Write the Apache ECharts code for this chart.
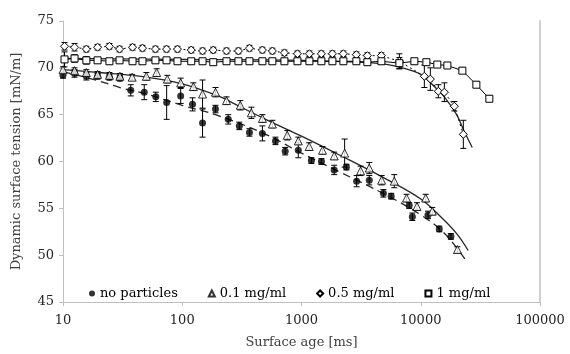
<!DOCTYPE html>
<html>
<head>
<meta charset="utf-8">
<script src="https://cdn.jsdelivr.net/npm/echarts@6/dist/echarts.min.js"></script>
<style>
  html, body { margin: 0; padding: 0; background: #fff; }
  #chart { width: 570px; height: 354px; }
</style>
</head>
<body>
<div id="chart"></div>
<script>
// no particles (filled circles)
const npT = [10, 12.5, 15.7, 19.5, 24.5, 30, 37, 48, 60, 74, 97, 122, 148, 190, 243, 301, 366, 470, 605, 730, 940, 1210, 1470, 1880, 2380, 2900, 3700, 4860, 5650, 8000, 8500, 11500, 14300, 17900];
const npY = [69.2, 69.4, 69.1, 69.1, 69.0, 68.9, 67.6, 67.4, 66.9, 66.3, 67.0, 66.1, 64.1, 65.6, 64.5, 63.8, 63.1, 63.0, 62.2, 61.1, 61.2, 60.1, 60.0, 59.1, 59.4, 57.9, 58.0, 56.6, 56.3, 55.3, 54.1, 54.3, 52.8, 52.0];
const npE = [0.3, 0.4, 0.4, 0.3, 0.3, 0.3, 0.6, 0.8, 0.5, 1.8, 0.8, 0.7, 1.5, 0.4, 0.5, 0.4, 0.4, 0.8, 0.4, 0.4, 0.8, 0.3, 0.3, 0.5, 0.3, 0.6, 0.5, 0.4, 0.3, 0.3, 0.4, 0.4, 0.3, 0.3];

// 0.1 mg/ml (open triangles)
const p1T = [10, 12.5, 15.7, 19.5, 24.5, 30, 38, 50, 61, 75, 97, 124, 148, 190, 235, 307, 380, 470, 570, 760, 940, 1160, 1500, 1880, 2300, 3130, 3700, 4700, 6000, 7600, 9300, 11000, 12500, 20300];
const p1Y = [69.8, 69.7, 69.5, 69.3, 69.2, 69.1, 69.0, 69.1, 69.5, 68.8, 68.4, 68.0, 67.2, 67.4, 66.5, 66.0, 65.2, 64.6, 64.0, 62.8, 62.2, 61.6, 61.2, 60.6, 60.9, 59.0, 59.3, 58.0, 57.9, 56.1, 55.2, 56.1, 54.7, 50.6];
const p1E = [0.3, 0.3, 0.3, 0.3, 0.3, 0.3, 0.3, 0.4, 0.4, 0.4, 0.5, 0.4, 1.5, 0.5, 0.4, 0.5, 0.6, 0.4, 0.4, 0.5, 0.4, 0.4, 0.4, 0.4, 1.5, 0.5, 0.6, 0.5, 0.7, 0.4, 0.4, 0.4, 0.4, 0.3];

// 0.5 mg/ml (open diamonds)
const p5T = [10.3, 12.5, 15.7, 19.5, 24.5, 29.8, 38.3, 46.4, 59.6, 73.8, 91.2, 119, 148, 182, 235, 296, 366, 470, 570, 719, 925, 1165, 1468, 1816, 2245, 2885, 3567, 4675, 6620, 10720, 12040, 14050, 15780, 19130, 22760];
const p5Y = [72.3, 72.2, 72.0, 72.2, 72.3, 72.0, 72.2, 72.1, 72.0, 72.0, 72.0, 71.9, 71.8, 71.9, 71.8, 71.8, 72.1, 71.9, 71.8, 71.6, 71.5, 71.5, 71.5, 71.5, 71.5, 71.4, 71.3, 71.3, 70.7, 69.1, 68.8, 67.5, 67.4, 65.9, 62.9];
const p5E = [0.4, 0.4, 0.3, 0.3, 0.3, 0.3, 0.3, 0.3, 0.3, 0.3, 0.3, 0.3, 0.3, 0.3, 0.3, 0.3, 0.3, 0.3, 0.3, 0.3, 0.3, 0.3, 0.3, 0.3, 0.3, 0.3, 0.3, 0.3, 0.8, 1.2, 1.2, 0.7, 1.0, 0.5, 1.5];

// 1 mg/ml (open squares)
const p10T = [10.3, 12.5, 15.7, 19.5, 24.5, 29.8, 38.3, 46.4, 59.6, 73.8, 91.2, 119, 148, 182, 235, 296, 366, 470, 570, 719, 925, 1165, 1468, 1816, 2245, 2885, 3567, 4675, 6620, 8840, 11150, 13770, 16720, 22330, 29270, 37600];
const p10Y = [70.9, 71.0, 70.8, 70.8, 70.7, 70.8, 70.7, 70.7, 70.8, 70.8, 70.7, 70.7, 70.7, 70.6, 70.7, 70.7, 70.7, 70.7, 70.7, 70.7, 70.7, 70.7, 70.7, 70.7, 70.7, 70.7, 70.6, 70.7, 70.5, 70.7, 70.6, 70.35, 70.25, 69.7, 68.2, 66.7];
const p10E = [0.8, 0.4, 0.4, 0.3, 0.3, 0.3, 0.3, 0.3, 0.3, 0.3, 0.3, 0.3, 0.3, 0.3, 0.3, 0.3, 0.3, 0.3, 0.3, 0.3, 0.3, 0.3, 0.3, 0.3, 0.3, 0.3, 0.3, 0.3, 0.6, 0.3, 0.3, 0.3, 0.3, 0.3, 0.3, 0.3];

// fitted curves
const fitNpT = [10, 20, 30, 50, 100, 200, 500, 1000, 2000, 5000, 10000, 15000, 20000, 24000];
const fitNpY = [69.6, 68.6, 67.9, 67.2, 66.0, 64.9, 62.9, 60.9, 59.0, 56.5, 54.3, 52.6, 50.8, 49.4];
const fitP1T = [10, 20, 50, 100, 200, 300, 500, 1000, 2000, 5000, 10000, 15000, 20000, 25000];
const fitP1Y = [69.8, 69.5, 69.0, 68.3, 67.0, 65.9, 64.5, 62.7, 60.8, 58.2, 56.0, 54.0, 52.3, 50.5];
const fitP5T = [10, 100, 1000, 3000, 5000, 7000, 10000, 13000, 16000, 20000, 23000, 27000];
const fitP5Y = [71.0, 70.9, 70.8, 70.6, 70.4, 70.0, 69.3, 68.0, 66.8, 65.0, 63.3, 61.5];

const yTicks = [45, 50, 55, 60, 65, 70, 75];

const FONT = 'DejaVu Serif';
const chart = echarts.init(document.getElementById('chart'), null, { renderer: 'canvas' });

function zip(a, b, c) {
  return a.map((v, i) => c ? [v, b[i], c[i]] : [v, b[i]]);
}

function renderErr(params, api) {
  const x = api.value(0), y = api.value(1), e = api.value(2);
  const hi = api.coord([x, y + e]);
  const lo = api.coord([x, y - e]);
  const w = 3;
  const st = { stroke: '#000', lineWidth: 1 };
  return {
    type: 'group',
    children: [
      { type: 'line', shape: { x1: hi[0], y1: hi[1], x2: lo[0], y2: lo[1] }, style: st },
      { type: 'line', shape: { x1: hi[0] - w, y1: hi[1], x2: hi[0] + w, y2: hi[1] }, style: st },
      { type: 'line', shape: { x1: lo[0] - w, y1: lo[1], x2: lo[0] + w, y2: lo[1] }, style: st }
    ]
  };
}

function errSeries(t, y, e) {
  return {
    type: 'custom',
    renderItem: renderErr,
    data: zip(t, y, e),
    encode: { x: 0, y: 1 },
    silent: true,
    z: 2
  };
}

function fitSeries(t, y, dashed) {
  return {
    type: 'line',
    data: zip(t, y),
    showSymbol: false,
    smooth: 0.4,
    lineStyle: { color: '#262626', width: 1.3, type: dashed ? [8, 5] : 'solid' },
    silent: true,
    z: 1
  };
}

const option = {
  animation: false,
  grid: { left: 63, right: 30, top: 21, bottom: 49 },
  xAxis: {
    type: 'log',
    logBase: 10,
    min: 10,
    max: 100000,
    name: 'Surface age [ms]',
    nameLocation: 'middle',
    nameGap: 34,
    nameTextStyle: { fontFamily: FONT, fontSize: 13, color: '#404040' },
    axisLine: { lineStyle: { color: '#bfbfbf' } },
    axisTick: { length: 4, lineStyle: { color: '#bfbfbf' } },
    axisLabel: { fontFamily: FONT, fontSize: 13, color: '#262626', margin: 12, formatter: v => String(Math.round(v)) },
    splitLine: { show: false },
    minorTick: { show: false }
  },
  yAxis: [{
    type: 'value',
    min: yTicks[0],
    max: yTicks[yTicks.length - 1],
    interval: 5,
    name: 'Dynamic surface tension [mN/m]',
    nameLocation: 'middle',
    nameGap: 40,
    nameTextStyle: { fontFamily: FONT, fontSize: 13, color: '#404040' },
    axisLine: { show: true, lineStyle: { color: '#bfbfbf' } },
    axisTick: { show: true, length: 4, lineStyle: { color: '#bfbfbf' } },
    axisLabel: { fontFamily: FONT, fontSize: 13, color: '#262626', margin: 9 },
    splitLine: { show: false }
  }, {
    type: 'value',
    position: 'right',
    min: yTicks[0],
    max: yTicks[yTicks.length - 1],
    interval: 5,
    axisLine: { show: true, lineStyle: { color: '#d0d0d0', width: 2 } },
    axisTick: { show: false },
    axisLabel: { show: false },
    splitLine: { show: false }
  }],
  legend: {
    left: 84,
    top: 282,
    itemWidth: 6,
    itemHeight: 6,
    itemGap: 30,
    textStyle: { fontFamily: FONT, fontSize: 13, color: '#000' },
    data: [
      { name: 'no particles', icon: 'circle' },
      { name: '0.1 mg/ml', icon: 'triangle' },
      { name: '0.5 mg/ml', icon: 'diamond' },
      { name: '1 mg/ml', icon: 'rect' }
    ]
  },
  series: [
    fitSeries(fitNpT, fitNpY, true),
    fitSeries(fitP1T, fitP1Y, false),
    fitSeries(fitP5T, fitP5Y, false),
    errSeries(npT, npY, npE),
    errSeries(p1T, p1Y, p1E),
    errSeries(p5T, p5Y, p5E),
    errSeries(p10T, p10Y, p10E),
    {
      name: 'no particles',
      type: 'scatter',
      data: zip(npT, npY),
      symbol: 'circle',
      symbolSize: 7,
      itemStyle: { color: '#000' },
      z: 4
    },
    {
      name: '0.1 mg/ml',
      type: 'scatter',
      data: zip(p1T, p1Y),
      symbol: 'triangle',
      symbolSize: 8,
      itemStyle: { color: '#fff', borderColor: '#000', borderWidth: 1 },
      z: 4
    },
    {
      name: '0.5 mg/ml',
      type: 'line',
      data: zip(p5T, p5Y),
      symbol: 'diamond',
      symbolSize: 8,
      lineStyle: { color: '#000', width: 1, type: [2, 3] },
      itemStyle: { color: '#fff', borderColor: '#000', borderWidth: 1 },
      z: 4
    },
    {
      name: '1 mg/ml',
      type: 'line',
      data: zip(p10T, p10Y),
      symbol: 'rect',
      symbolSize: 7,
      lineStyle: { color: '#000', width: 1 },
      itemStyle: { color: '#fff', borderColor: '#000', borderWidth: 1 },
      z: 4
    }
  ]
};

chart.setOption(option);
</script>
</body>
</html>
